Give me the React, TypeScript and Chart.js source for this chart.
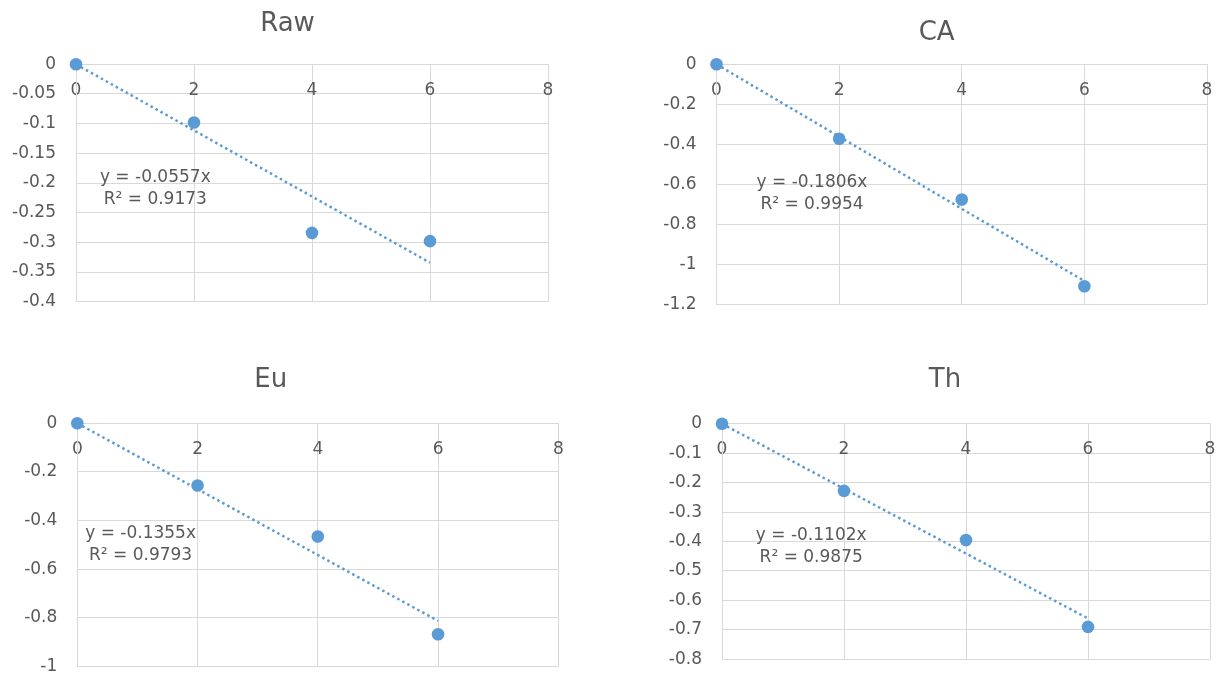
import { useEffect, useRef } from "react";
import { Chart, registerables } from "chart.js";

Chart.register(...registerables);

// Sampling times (x) shared by all four panels
const times = [0, 2, 4, 6];
const xTicks = [0, 2, 4, 6, 8];

// Measured values per treatment
const rawValues = [0, -0.098, -0.284, -0.298];
const caValues = [0, -0.372, -0.676, -1.11];
const euValues = [0, -0.256, -0.466, -0.868];
const thValues = [0, -0.228, -0.395, -0.69];

// Y-axis tick labels per panel
const rawTicks = [0, -0.05, -0.1, -0.15, -0.2, -0.25, -0.3, -0.35, -0.4];
const caTicks = [0, -0.2, -0.4, -0.6, -0.8, -1, -1.2];
const euTicks = [0, -0.2, -0.4, -0.6, -0.8, -1];
const thTicks = [0, -0.1, -0.2, -0.3, -0.4, -0.5, -0.6, -0.7, -0.8];

// Linear trendline (through origin) and its fit quality
const titles = ["Raw", "CA", "Eu", "Th"];
const slopes = [-0.0557, -0.1806, -0.1355, -0.1102];
const rSquared = [0.9173, 0.9954, 0.9793, 0.9875];

const seriesValues = [rawValues, caValues, euValues, thValues];
const seriesTicks = [rawTicks, caTicks, euTicks, thTicks];

const FONT = "'DejaVu Sans', sans-serif";
const TEXT = "#595959";
const GRID = "#d9d9d9";
const BLUE = "#5b9bd5";

// Page layout of each panel: canvas box, plot box, title and equation anchors.
// Canvas boxes run past the page edge so axis-label padding never squeezes the plot.
type Panel = {
  box: [number, number, number, number];
  plot: [number, number, number, number];
  title: [number, number];
  eq: [number, number];
};

const panels: Panel[] = [
  { box: [0, 0, 610, 350], plot: [76, 548, 64.3, 301.7], title: [287.5, 24], eq: [155.3, 178] },
  { box: [610, 0, 660, 350], plot: [716.5, 1207, 64.3, 304.3], title: [936.6, 33.5], eq: [812, 182.7] },
  { box: [0, 340, 610, 380], plot: [77.3, 558.3, 423.3, 666.3], title: [270.8, 380], eq: [140.6, 534] },
  { box: [610, 340, 660, 380], plot: [722, 1210, 423.8, 659.3], title: [945, 380.5], eq: [811.2, 536] },
];

const panelText = {
  id: "panelText",
  afterDraw(chart: any, _args: any, opts: any) {
    const ctx = chart.ctx;
    ctx.save();
    ctx.fillStyle = TEXT;
    ctx.textAlign = "center";
    ctx.textBaseline = "middle";
    ctx.font = `26px ${FONT}`;
    ctx.fillText(opts.title, opts.titleX, opts.titleY);
    ctx.font = `17px ${FONT}`;
    ctx.fillText(opts.line1, opts.eqX, opts.eqY);
    ctx.fillText(opts.line2, opts.eqX, opts.eqY + 22);
    ctx.restore();
  },
};

function TrendPanel({ index }: { index: number }) {
  const ref = useRef<HTMLCanvasElement | null>(null);
  const p = panels[index];
  const [bx, by, bw, bh] = p.box;
  const [pl, pr, pt, pb] = p.plot;

  useEffect(() => {
    if (!ref.current) return;
    const values = seriesValues[index];
    const ticks = seriesTicks[index];
    const slope = slopes[index];
    const lastX = times[times.length - 1];

    const chart = new Chart(ref.current, {
      type: "scatter",
      data: {
        datasets: [
          {
            label: "trend",
            data: [
              { x: 0, y: 0 },
              { x: lastX, y: slope * lastX },
            ],
            showLine: true,
            borderColor: BLUE,
            borderWidth: 2.5,
            borderDash: [2.5, 3.2],
            pointRadius: 0,
            pointHoverRadius: 0,
          },
          {
            label: titles[index],
            data: times.map((t, i) => ({ x: t, y: values[i] })),
            backgroundColor: BLUE,
            borderColor: BLUE,
            borderWidth: 0,
            pointRadius: 6.3,
            clip: false as any,
          },
        ],
      },
      plugins: [panelText],
      options: {
        responsive: false,
        animation: false,
        events: [],
        layout: {
          padding: {
            left: 0,
            right: bx + bw - pr,
            top: pt - by,
            bottom: by + bh - pb,
          },
        },
        plugins: {
          legend: { display: false },
          tooltip: { enabled: false },
          title: { display: false },
          panelText: {
            title: titles[index],
            titleX: p.title[0] - bx,
            titleY: p.title[1] - by,
            eqX: p.eq[0] - bx,
            eqY: p.eq[1] - by,
            line1: `y = ${slope.toFixed(4)}x`,
            line2: `R² = ${rSquared[index].toFixed(4)}`,
          },
        } as any,
        scales: {
          x: {
            type: "linear",
            position: { y: 0 } as any,
            min: 0,
            max: 8,
            afterBuildTicks: (s: any) => {
              s.ticks = xTicks.map((v) => ({ value: v }));
            },
            grid: { color: GRID, drawTicks: false, lineWidth: 1 },
            border: { color: GRID, width: 1 },
            ticks: {
              padding: 16,
              color: TEXT,
              font: { family: FONT, size: 17 },
              maxRotation: 0,
              callback: (v: any) => String(v),
            },
          },
          y: {
            type: "linear",
            min: ticks[ticks.length - 1],
            max: 0,
            afterBuildTicks: (s: any) => {
              s.ticks = ticks.map((v) => ({ value: v }));
            },
            afterFit: (s: any) => {
              s.width = pl - bx;
            },
            grid: { color: GRID, drawTicks: false, lineWidth: 1 },
            border: { color: GRID, width: 1 },
            ticks: {
              padding: 20,
              color: TEXT,
              font: { family: FONT, size: 17 },
              callback: (v: any) => String(v),
            },
          },
        },
      },
    });
    return () => chart.destroy();
  }, [index]);

  return (
    <div style={{ position: "absolute", left: bx, top: by, width: bw, height: bh }}>
      <canvas ref={ref} width={bw} height={bh} style={{ width: bw, height: bh, display: "block" }} />
    </div>
  );
}

export default function App() {
  return (
    <div
      style={{
        position: "fixed",
        left: 0,
        top: 0,
        width: 1220,
        height: 676,
        background: "#ffffff",
        overflow: "hidden",
      }}
    >
      {titles.map((_, i) => (
        <TrendPanel key={i} index={i} />
      ))}
    </div>
  );
}
